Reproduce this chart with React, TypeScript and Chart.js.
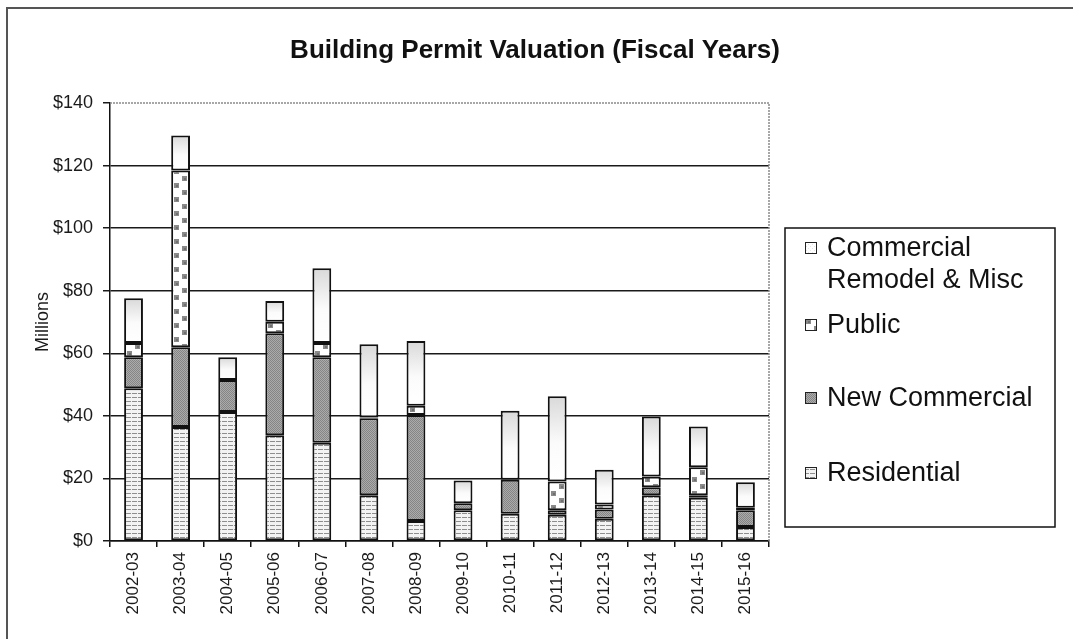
import React, { useEffect, useRef } from "react";
import { Chart, registerables } from "chart.js";

Chart.register(...registerables);

const categories = [
  "2002-03", "2003-04", "2004-05", "2005-06", "2006-07", "2007-08", "2008-09",
  "2009-10", "2010-11", "2011-12", "2012-13", "2013-14", "2014-15", "2015-16",
];
const residential = [48.8, 36.4, 41.2, 33.8, 31.4, 14.6, 6.4, 9.8, 8.7, 8.4, 7.1, 14.6, 13.8, 4.5];
const newCommercial = [9.9, 25.5, 10.3, 32.6, 27.3, 24.6, 33.9, 2.3, 10.9, 1.4, 3.0, 2.6, 0.8, 5.3];
const publicVals = [4.6, 56.5, 0, 3.7, 4.6, 0.3, 2.9, 0, 0, 9.2, 1.6, 3.4, 9.0, 0.8];
const remodel = [14.3, 11.2, 7.2, 6.6, 23.9, 23.4, 20.7, 7.2, 22.0, 27.3, 11.1, 19.2, 13.0, 8.2];
const yTicks = [0, 20, 40, 60, 80, 100, 120, 140];
const titleText = "Building Permit Valuation (Fiscal Years)";
const yTitle = "Millions";
const legendLines = [
  ["Commercial", "Remodel & Misc"],
  ["Public"],
  ["New Commercial"],
  ["Residential"],
];

const FONT = "'Liberation Sans', Arial, Helvetica, sans-serif";
const BAR_PCT = 0.4;

function makePattern(w: number, h: number, draw: (g: CanvasRenderingContext2D) => void) {
  const c = document.createElement("canvas");
  c.width = w;
  c.height = h;
  const g = c.getContext("2d") as CanvasRenderingContext2D;
  draw(g);
  return g.createPattern(c, "repeat") as CanvasPattern;
}

const drawPublicTile = (g: CanvasRenderingContext2D) => {
  g.fillStyle = "#ffffff";
  g.fillRect(0, 0, 19, 14);
  g.fillStyle = "#8a8a8a";
  g.fillRect(3, 1, 5, 5);
  g.fillRect(11, 8, 5, 5);
  g.fillStyle = "#6f6f6f";
  g.fillRect(5, 3, 2, 2);
  g.fillRect(13, 10, 2, 2);
};

function shiftedPublic(x: number, y: number) {
  const p = makePattern(19, 14, drawPublicTile);
  if ((p as any).setTransform && isFinite(x) && isFinite(y)) {
    p.setTransform(new DOMMatrix().translate(x, y));
  }
  return p;
}

export default function App() {
  const ref = useRef<HTMLCanvasElement | null>(null);

  useEffect(() => {
    const canvas = ref.current;
    if (!canvas) return;

    const resPat = makePattern(6, 4, (g) => {
      g.fillStyle = "#f3f3f3";
      g.fillRect(0, 0, 6, 4);
      g.fillStyle = "#8e8e8e";
      g.fillRect(0, 1, 5, 1);
    });
    const newPat = makePattern(2, 2, (g) => {
      g.fillStyle = "#ababab";
      g.fillRect(0, 0, 2, 2);
      g.fillStyle = "#858585";
      g.fillRect(0, 0, 1, 1);
      g.fillRect(1, 1, 1, 1);
    });
    const pubPat = makePattern(19, 14, drawPublicTile);
    const remPat = makePattern(4, 4, (g) => {
      g.fillStyle = "#ffffff";
      g.fillRect(0, 0, 4, 4);
      g.fillStyle = "#e4e4e4";
      g.fillRect(0, 0, 1, 1);
      g.fillRect(2, 2, 1, 1);
    });

    const publicFill = (c: any) => {
      if (c.type !== "data") return pubPat;
      const chart = c.chart;
      const xs = chart.scales && chart.scales.x;
      if (!xs || !chart.chartArea) return pubPat;
      const center = xs.getPixelForValue(c.dataIndex);
      const bw = (chart.chartArea.width / categories.length) * BAR_PCT;
      const left = Math.round(center - bw / 2);
      return shiftedPublic(left, 0);
    };

    const remodelFill = (c: any) => {
      if (c.type !== "data") return "#ffffff";
      const chart = c.chart;
      const ys = chart.scales && chart.scales.y;
      if (!ys || !chart.chartArea) return "#ffffff";
      const i = c.dataIndex;
      const base = residential[i] + newCommercial[i] + publicVals[i];
      const top = base + remodel[i];
      const pTop = ys.getPixelForValue(top);
      const pBase = ys.getPixelForValue(base);
      if (!isFinite(pTop) || !isFinite(pBase) || pBase - pTop < 1) return "#ffffff";
      const g = chart.ctx.createLinearGradient(0, pTop, 0, pBase);
      g.addColorStop(0, "#d9d9d9");
      g.addColorStop(0.55, "#fbfbfb");
      g.addColorStop(1, "#ffffff");
      return g;
    };

    const decor = {
      id: "decor",
      afterDraw(chart: any) {
        const ctx = chart.ctx as CanvasRenderingContext2D;
        const a = chart.chartArea;
        ctx.save();
        ctx.strokeStyle = "#555";
        ctx.lineWidth = 2;
        ctx.beginPath();
        ctx.moveTo(7, 639);
        ctx.lineTo(7, 8);
        ctx.lineTo(1073, 8);
        ctx.stroke();

        ctx.strokeStyle = "#8a8a8a";
        ctx.lineWidth = 1.5;
        ctx.setLineDash([2, 1]);
        ctx.beginPath();
        ctx.moveTo(a.left, a.top);
        ctx.lineTo(a.right, a.top);
        ctx.lineTo(a.right, a.bottom);
        ctx.stroke();
        ctx.setLineDash([]);

        ctx.fillStyle = "#111";
        ctx.font = `bold 26px ${FONT}`;
        ctx.textAlign = "center";
        ctx.textBaseline = "middle";
        ctx.fillText(titleText, 535, 51);

        const lx = 785, ly = 228, lw = 270, lh = 299;
        ctx.strokeStyle = "#111";
        ctx.lineWidth = 1.5;
        ctx.strokeRect(lx, ly, lw, lh);
        const centers = [[248, 280], [325], [398], [473]];
        ctx.font = `27px ${FONT}`;
        ctx.textAlign = "left";
        legendLines.forEach((lines, i) => {
          const cy = centers[i][0];
          const fill =
            i === 0 ? remPat : i === 1 ? shiftedPublic(805 - 2, cy - 6 - 1) : i === 2 ? newPat : resPat;
          ctx.fillStyle = fill;
          ctx.fillRect(805, cy - 6, 12, 12);
          ctx.strokeStyle = "#222";
          ctx.lineWidth = 1;
          ctx.strokeRect(805.5, cy - 5.5, 11, 11);
          ctx.fillStyle = "#111";
          lines.forEach((t, j) => {
            ctx.fillText(t, 827, centers[i][j] + 1);
          });
        });
        ctx.restore();
      },
    };

    const common = {
      borderColor: "#111",
      borderWidth: 2,
      borderSkipped: false,
      barPercentage: BAR_PCT,
      categoryPercentage: 1.0,
    };

    const chart = new Chart(canvas, {
      type: "bar",
      data: {
        labels: categories,
        datasets: [
          { label: "Residential", data: residential, backgroundColor: resPat, ...common },
          { label: "New Commercial", data: newCommercial, backgroundColor: newPat, ...common },
          { label: "Public", data: publicVals, backgroundColor: publicFill, ...common },
          { label: "Commercial Remodel & Misc", data: remodel, backgroundColor: remodelFill, ...common },
        ],
      } as any,
      options: {
        responsive: false,
        animation: false,
        layout: { padding: { left: 0, right: 304, top: 103, bottom: 8 } },
        plugins: {
          legend: { display: false },
          title: { display: false },
          tooltip: { enabled: false },
        },
        scales: {
          x: {
            stacked: true,
            grid: {
              display: true,
              drawOnChartArea: false,
              drawTicks: true,
              tickLength: 6,
              color: "#111",
              lineWidth: 1.5,
              offset: true,
            },
            border: { display: true, color: "#111", width: 1.5 },
            ticks: {
              minRotation: 90,
              maxRotation: 90,
              autoSkip: false,
              padding: 5,
              color: "#1a1a1a",
              font: { family: FONT, size: 17 },
            },
            afterFit(scale: any) {
              scale.height = 90;
            },
          },
          y: {
            stacked: true,
            min: 0,
            max: 140,
            afterBuildTicks(scale: any) {
              scale.ticks = yTicks.map((v) => ({ value: v }));
            },
            grid: {
              drawTicks: true,
              tickLength: 7,
              lineWidth: 1.5,
              color: (c: any) => (c.tick && c.tick.value === 140 ? "rgba(0,0,0,0)" : "#1a1a1a"),
              tickColor: "#1a1a1a",
            },
            border: { display: true, color: "#111", width: 1.5 },
            ticks: {
              padding: 10,
              color: "#1a1a1a",
              font: { family: FONT, size: 18 },
              callback: (v: any) => `$${v}`,
            },
            title: {
              display: true,
              text: yTitle,
              color: "#1a1a1a",
              font: { family: FONT, size: 18 },
              padding: { top: 32, bottom: 0 },
            },
            afterFit(scale: any) {
              scale.width = 110;
            },
          },
        },
      } as any,
      plugins: [decor],
    });

    return () => chart.destroy();
  }, []);

  return (
    <div style={{ position: "fixed", left: 0, top: 0, width: 1073, height: 639, background: "#fff" }}>
      <canvas ref={ref} width={1073} height={639} style={{ display: "block" }} />
    </div>
  );
}
